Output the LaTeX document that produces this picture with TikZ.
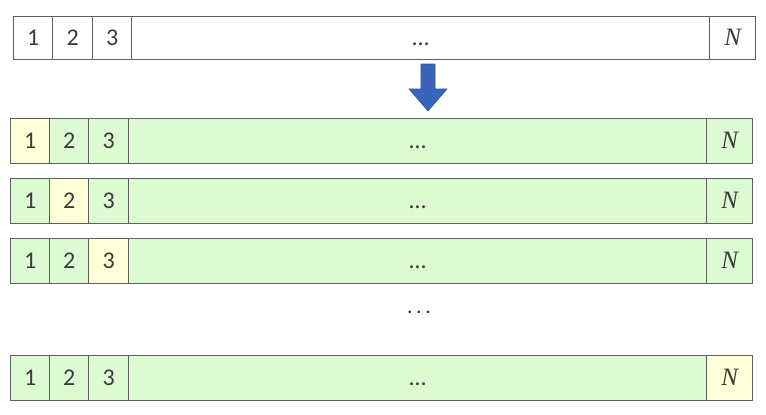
\documentclass[tikz,border=0pt]{standalone}
\usepackage{fontspec}
\setmainfont{Carlito}
\newfontfamily\nfont{Liberation Serif}
\definecolor{linegray}{HTML}{5E5E5E}
\definecolor{textgray}{HTML}{3A3A3A}
\definecolor{greenfill}{HTML}{DDFBD3}
\definecolor{yellowfill}{HTML}{FFFFD8}
\definecolor{arrowblue}{HTML}{3A63BC}
\definecolor{arrowedge}{HTML}{2F528F}
\newcommand{\lastN}{{\nfont\itshape\fontsize{25}{26}\selectfont N}}
\begin{document}
\begin{tikzpicture}[x=1pt,y=-1pt,
		cell/.style={draw=linegray,line width=1.2pt,anchor=north west,inner sep=0pt,
			text height=15pt,text depth=0pt,
			text=textgray,font=\fontsize{24}{26}\selectfont},
		k1/.style={fill=greenfill},k2/.style={fill=greenfill},k3/.style={fill=greenfill},
		kd/.style={fill=greenfill},kN/.style={fill=greenfill}]
			\useasboundingbox (0,0) rectangle (766,415);
			% original row
			\node[cell,minimum width=39pt,minimum height=43pt] (t1) at (13,16) {1};
			\node[cell,minimum width=40pt,minimum height=43pt] (t2) at (52,16) {2};
			\node[cell,minimum width=39pt,minimum height=43pt] (t3) at (92,16) {3};
			\node[cell,minimum width=578pt,minimum height=43pt] (td) at (131,16) {\dots};
			\node[cell,minimum width=46pt,minimum height=43pt] (tN) at (709,16) {\lastN};
			% arrow
			\filldraw[fill=arrowblue,draw=arrowedge,line width=0.6pt] (421,64) -- (435,64) -- (435,89) -- (447,89)
				-- (428,111) -- (409,89) -- (421,89) -- cycle;
			% copies, one highlighted cell each
			\foreach \r/\y/\h in {1/118/1,2/178/2,3/238/3,4/355/N}{
				\tikzset{k\h/.style={fill=yellowfill}}
				\node[cell,k1,minimum width=39pt,minimum height=45pt] (r\r-1) at (10,\y) {1};
				\node[cell,k2,minimum width=39pt,minimum height=45pt] (r\r-2) at (49,\y) {2};
				\node[cell,k3,minimum width=40pt,minimum height=45pt] (r\r-3) at (88,\y) {3};
				\node[cell,kd,minimum width=578pt,minimum height=45pt] (r\r-d) at (128,\y) {\dots};
				\node[cell,kN,minimum width=46pt,minimum height=45pt] (r\r-N) at (706,\y) {\lastN};
			}
			\node[text=textgray,font=\fontsize{22}{24}\selectfont] (vdots) at (419,312) {.\,.\,.};
		\end{tikzpicture}
\end{document}
